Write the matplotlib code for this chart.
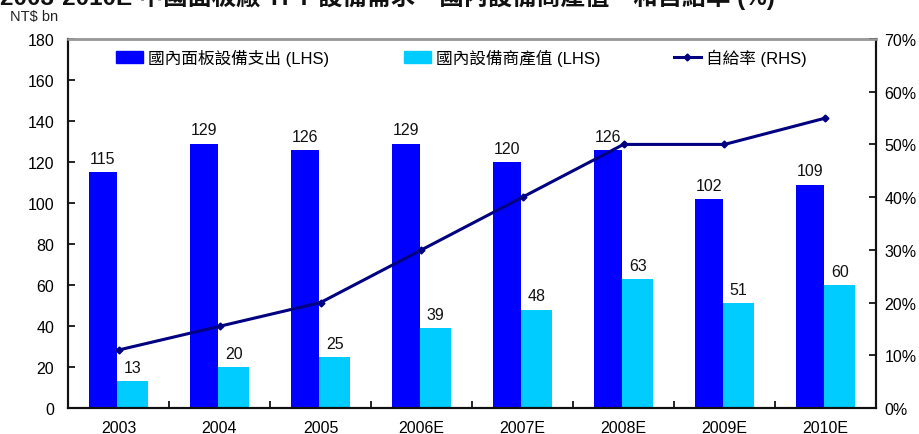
import matplotlib
matplotlib.use("Agg")
import matplotlib.pyplot as plt
import numpy as np
from matplotlib.lines import Line2D
from matplotlib.patches import Patch

plt.rcParams['font.family'] = ['Liberation Sans', 'Noto Sans CJK TC', 'DejaVu Sans']

categories = ["2003", "2004", "2005", "2006E", "2007E", "2008E", "2009E", "2010E"]
spending = [115, 129, 126, 129, 120, 126, 102, 109]
domestic = [13, 20, 25, 39, 48, 63, 51, 60]
self_rate = [11, 15.5, 20, 30, 40, 50, 50, 55]

left_ticks = [0, 20, 40, 60, 80, 100, 120, 140, 160, 180]
right_ticks = [0, 10, 20, 30, 40, 50, 60, 70]

c_dark = "#0000FF"
c_light = "#00CCFF"
c_line = "#000080"

W, H = 920, 435
fig = plt.figure(figsize=(W/100, H/100), dpi=100)
ax = fig.add_axes([68/W, 26/H, 808/W, 369/H])
x = np.arange(len(categories))
w1, w2 = 0.28, 0.31
x1 = x - (w1 + w2)/2 + w1/2
x2 = x - (w1 + w2)/2 + w1 + w2/2
ax.bar(x1, spending, width=w1, color=c_dark)
ax.bar(x2, domestic, width=w2, color=c_light)

for xi, v in zip(x1, spending):
    ax.text(xi, v + 3, str(v), ha='center', va='bottom', fontsize=11.5, color='#111111')
for xi, v in zip(x2, domestic):
    ax.text(xi, v + 3, str(v), ha='center', va='bottom', fontsize=11.5, color='#111111')

ax.set_xlim(-0.5, len(categories) - 0.5)
ax.set_ylim(0, 180)
ax.set_yticks(left_ticks)
ax.set_yticklabels([str(t) for t in left_ticks], fontsize=11.5)
ax.set_xticks(x)
ax.set_xticklabels(categories, fontsize=11.5)
ax.set_xticks(np.arange(0.5, len(categories) - 0.5, 1), minor=True)
ax.tick_params(axis='x', which='major', length=0, pad=9)
ax.tick_params(axis='x', which='minor', direction='in', length=5, width=1.2)
ax.tick_params(axis='y', direction='in', length=5, width=1.2, pad=10)

ax2 = ax.twinx()
ax2.plot(x, self_rate, color=c_line, lw=2.2, marker='D', markersize=3.5)
ax2.set_ylim(0, 70)
ax2.set_yticks(right_ticks)
ax2.set_yticklabels([f"{t}%" for t in right_ticks], fontsize=11.5)
ax2.tick_params(axis='y', direction='in', length=5, width=1.2, pad=6)

for a in (ax, ax2):
    for s in ('left', 'right', 'bottom'):
        a.spines[s].set_linewidth(1.5)
        a.spines[s].set_color('#111111')
    a.spines['top'].set_color('#999999')
    a.spines['top'].set_linewidth(1.8)

handles = [Patch(color=c_dark), Patch(color=c_light),
           Line2D([0], [0], color=c_line, lw=2.2, marker='D', markersize=3.5)]
labels = ["國內面板設備支出 (LHS)", "國內設備商產值 (LHS)", "自給率 (RHS)"]
starts = [116, 404, 674]
for h, lab, sx in zip(handles, labels, starts):
    leg = fig.legend([h], [lab], loc='center left', bbox_to_anchor=(sx/W, 1 - 58/H),
                     frameon=False, fontsize=12, handlelength=1.6, handleheight=0.75,
                     handletextpad=0.3, borderpad=0, borderaxespad=0)

fig.text(10/W, 1 - 17/H, "NT$ bn", fontsize=10.5, va='center', ha='left', color='#222222')
fig.text(0.0, 1 + 3/H, "2003-2010E 中國面板廠 TFT 設備需求、國內設備商產值、和自給率 (%)",
         fontsize=17.5, fontweight='bold', va='center', ha='left', color='#111111')

fig.savefig("out.png", dpi=100)
